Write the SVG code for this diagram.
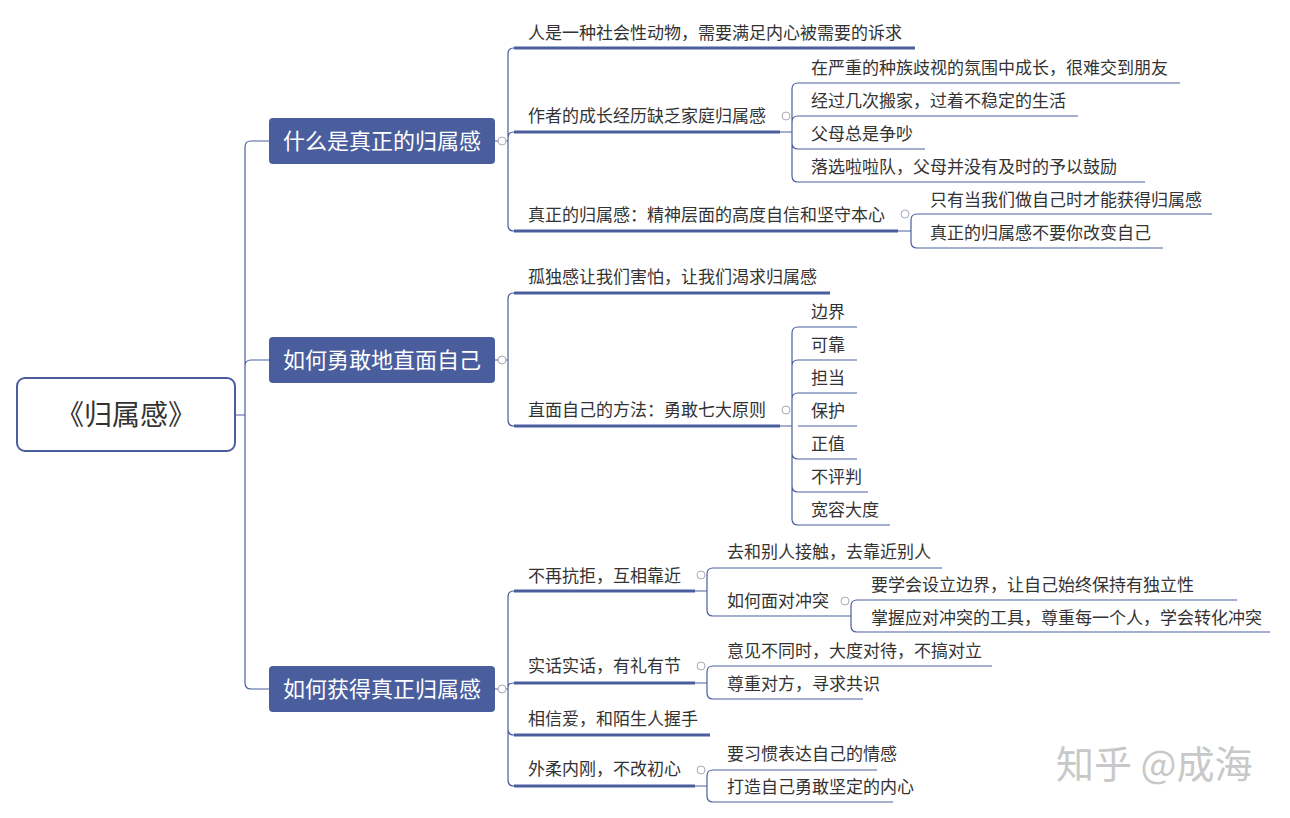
<svg xmlns="http://www.w3.org/2000/svg" width="1290" height="818" viewBox="0 0 1290 818">
<style>
.c{fill:none;stroke:#4a5e9e;stroke-width:1.2}
.u2{stroke:#4a5e9e;stroke-width:3}
.u3{stroke:#4a5e9e;stroke-width:1.2}
.b{fill:#4a5e9e}
.t1{font-family:"Noto Sans CJK SC",sans-serif;font-size:22px;fill:#fff}
.t{font-family:"Noto Sans CJK SC",sans-serif;font-size:17px;fill:#333}
.k{fill:#fff;stroke:#aab;stroke-width:1}
</style>
<rect width="1290" height="818" fill="#fff"/>
<g id="connectors">
<path class="c" d="M235 415H245M245 415V147Q245 141 251 141H269M245 415V366Q245 360 251 360H269M245 415V683Q245 689 251 689H269"/>
<path class="c" d="M495 141H508M508 141V54Q508 48 514 48M508 141V138Q508 132 514 132M508 141V225Q508 231 514 231"/>
<path class="c" d="M780 132H792M792 132V89Q792 83 798 83M792 132V122Q792 116 798 116M792 132V143Q792 149 798 149M792 132V176Q792 182 798 182"/>
<path class="c" d="M898 231H911M911 231V220Q911 214 917 214M911 231V242Q911 248 917 248"/>
<path class="c" d="M495 360H508M508 360V299Q508 293 514 293M508 360V420Q508 426 514 426"/>
<path class="c" d="M780 426H792M792 426V333Q792 327 798 327M792 426V366Q792 360 798 360M792 426V399Q792 393 798 393M792 426V453Q792 459 798 459M792 426V486Q792 492 798 492M792 426V519Q792 525 798 525"/>
<path class="c" d="M495 689H508M508 689V597Q508 591 514 591M508 689V687Q508 683 514 683M508 689V729Q508 735 514 735M508 689V780Q508 786 514 786"/>
<path class="c" d="M695 591H707M707 591V574Q707 568 713 568M707 591V610Q707 616 713 616"/>
<path class="c" d="M830 616H851M851 616V606Q851 600 857 600M851 616V626Q851 632 857 632"/>
<path class="c" d="M695 683H707M707 683V672Q707 666 713 666M707 683V693Q707 699 713 699"/>
<path class="c" d="M695 786H707M707 786V776Q707 770 713 770M707 786V796Q707 802 713 802"/>
<line class="u2" x1="514" y1="48" x2="915" y2="48"/>
<line class="u2" x1="514" y1="132" x2="780" y2="132"/>
<line class="u2" x1="514" y1="231" x2="898" y2="231"/>
<line class="u2" x1="514" y1="293" x2="830" y2="293"/>
<line class="u2" x1="514" y1="426" x2="780" y2="426"/>
<line class="u2" x1="514" y1="591" x2="695" y2="591"/>
<line class="u2" x1="514" y1="683" x2="695" y2="683"/>
<line class="u2" x1="514" y1="735" x2="710" y2="735"/>
<line class="u2" x1="514" y1="786" x2="695" y2="786"/>
<line class="u3" x1="798" y1="83" x2="1180" y2="83"/>
<line class="u3" x1="798" y1="116" x2="1078" y2="116"/>
<line class="u3" x1="798" y1="149" x2="925" y2="149"/>
<line class="u3" x1="798" y1="182" x2="1145" y2="182"/>
<line class="u3" x1="917" y1="214" x2="1212" y2="214"/>
<line class="u3" x1="917" y1="248" x2="1163" y2="248"/>
<line class="u3" x1="798" y1="327" x2="857" y2="327"/>
<line class="u3" x1="798" y1="360" x2="857" y2="360"/>
<line class="u3" x1="798" y1="393" x2="857" y2="393"/>
<line class="u3" x1="798" y1="426" x2="857" y2="426"/>
<line class="u3" x1="798" y1="459" x2="857" y2="459"/>
<line class="u3" x1="798" y1="492" x2="868" y2="492"/>
<line class="u3" x1="798" y1="525" x2="890" y2="525"/>
<line class="u3" x1="713" y1="568" x2="942" y2="568"/>
<line class="u3" x1="713" y1="616" x2="830" y2="616"/>
<line class="u3" x1="857" y1="600" x2="1237" y2="600"/>
<line class="u3" x1="857" y1="632" x2="1270" y2="632"/>
<line class="u3" x1="713" y1="666" x2="992" y2="666"/>
<line class="u3" x1="713" y1="699" x2="863" y2="699"/>
<line class="u3" x1="713" y1="770" x2="877" y2="770"/>
<line class="u3" x1="713" y1="802" x2="893" y2="802"/>
</g>
<g id="toggles">
<circle class="k" cx="502" cy="141" r="4"/><circle class="k" cx="502" cy="360" r="4"/><circle class="k" cx="502" cy="689" r="4"/>
<circle class="k" cx="786" cy="116" r="4"/><circle class="k" cx="905" cy="214" r="4"/><circle class="k" cx="786" cy="410" r="4"/>
<circle class="k" cx="701" cy="575" r="4"/><circle class="k" cx="845" cy="601" r="4"/><circle class="k" cx="701" cy="666" r="4"/><circle class="k" cx="701" cy="770" r="4"/>
</g>
<g id="root"><rect x="17" y="378" width="218" height="73" rx="8" fill="#fff" stroke="#4a5e9e" stroke-width="2"/><text x="126" y="425" text-anchor="middle" font-family="Noto Sans CJK SC,sans-serif" font-size="28" fill="#333">《归属感》</text></g>
<g id="n1"><rect class="b" x="269" y="118" width="226" height="46" rx="4"/><text class="t1" x="382" y="149" text-anchor="middle">什么是真正的归属感</text></g>
<g id="n2"><rect class="b" x="269" y="337" width="226" height="46" rx="4"/><text class="t1" x="382" y="368" text-anchor="middle">如何勇敢地直面自己</text></g>
<g id="n3"><rect class="b" x="269" y="666" width="226" height="46" rx="4"/><text class="t1" x="382" y="697" text-anchor="middle">如何获得真正归属感</text></g>
<g id="labels">
<text class="t" x="528" y="39">人是一种社会性动物，需要满足内心被需要的诉求</text>
<text class="t" x="528" y="122">作者的成长经历缺乏家庭归属感</text>
<text class="t" x="811" y="74">在严重的种族歧视的氛围中成长，很难交到朋友</text>
<text class="t" x="811" y="107">经过几次搬家，过着不稳定的生活</text>
<text class="t" x="811" y="140">父母总是争吵</text>
<text class="t" x="811" y="173">落选啦啦队，父母并没有及时的予以鼓励</text>
<text class="t" x="528" y="221">真正的归属感：精神层面的高度自信和坚守本心</text>
<text class="t" x="930" y="206">只有当我们做自己时才能获得归属感</text>
<text class="t" x="930" y="239">真正的归属感不要你改变自己</text>
<text class="t" x="528" y="283">孤独感让我们害怕，让我们渴求归属感</text>
<text class="t" x="528" y="416">直面自己的方法：勇敢七大原则</text>
<text class="t" x="811" y="318">边界</text>
<text class="t" x="811" y="351">可靠</text>
<text class="t" x="811" y="384">担当</text>
<text class="t" x="811" y="417">保护</text>
<text class="t" x="811" y="450">正值</text>
<text class="t" x="811" y="483">不评判</text>
<text class="t" x="811" y="516">宽容大度</text>
<text class="t" x="528" y="582">不再抗拒，互相靠近</text>
<text class="t" x="727" y="558">去和别人接触，去靠近别人</text>
<text class="t" x="727" y="607">如何面对冲突</text>
<text class="t" x="871" y="591">要学会设立边界，让自己始终保持有独立性</text>
<text class="t" x="871" y="624">掌握应对冲突的工具，尊重每一个人，学会转化冲突</text>
<text class="t" x="528" y="672">实话实话，有礼有节</text>
<text class="t" x="727" y="657">意见不同时，大度对待，不搞对立</text>
<text class="t" x="727" y="690">尊重对方，寻求共识</text>
<text class="t" x="528" y="725">相信爱，和陌生人握手</text>
<text class="t" x="528" y="775">外柔内刚，不改初心</text>
<text class="t" x="727" y="760">要习惯表达自己的情感</text>
<text class="t" x="727" y="793">打造自己勇敢坚定的内心</text>
</g>
<text x="1056" y="778" font-family="Noto Sans CJK SC,sans-serif" font-size="38" fill="#c8c8c8">知乎 @成海</text>
</svg>
